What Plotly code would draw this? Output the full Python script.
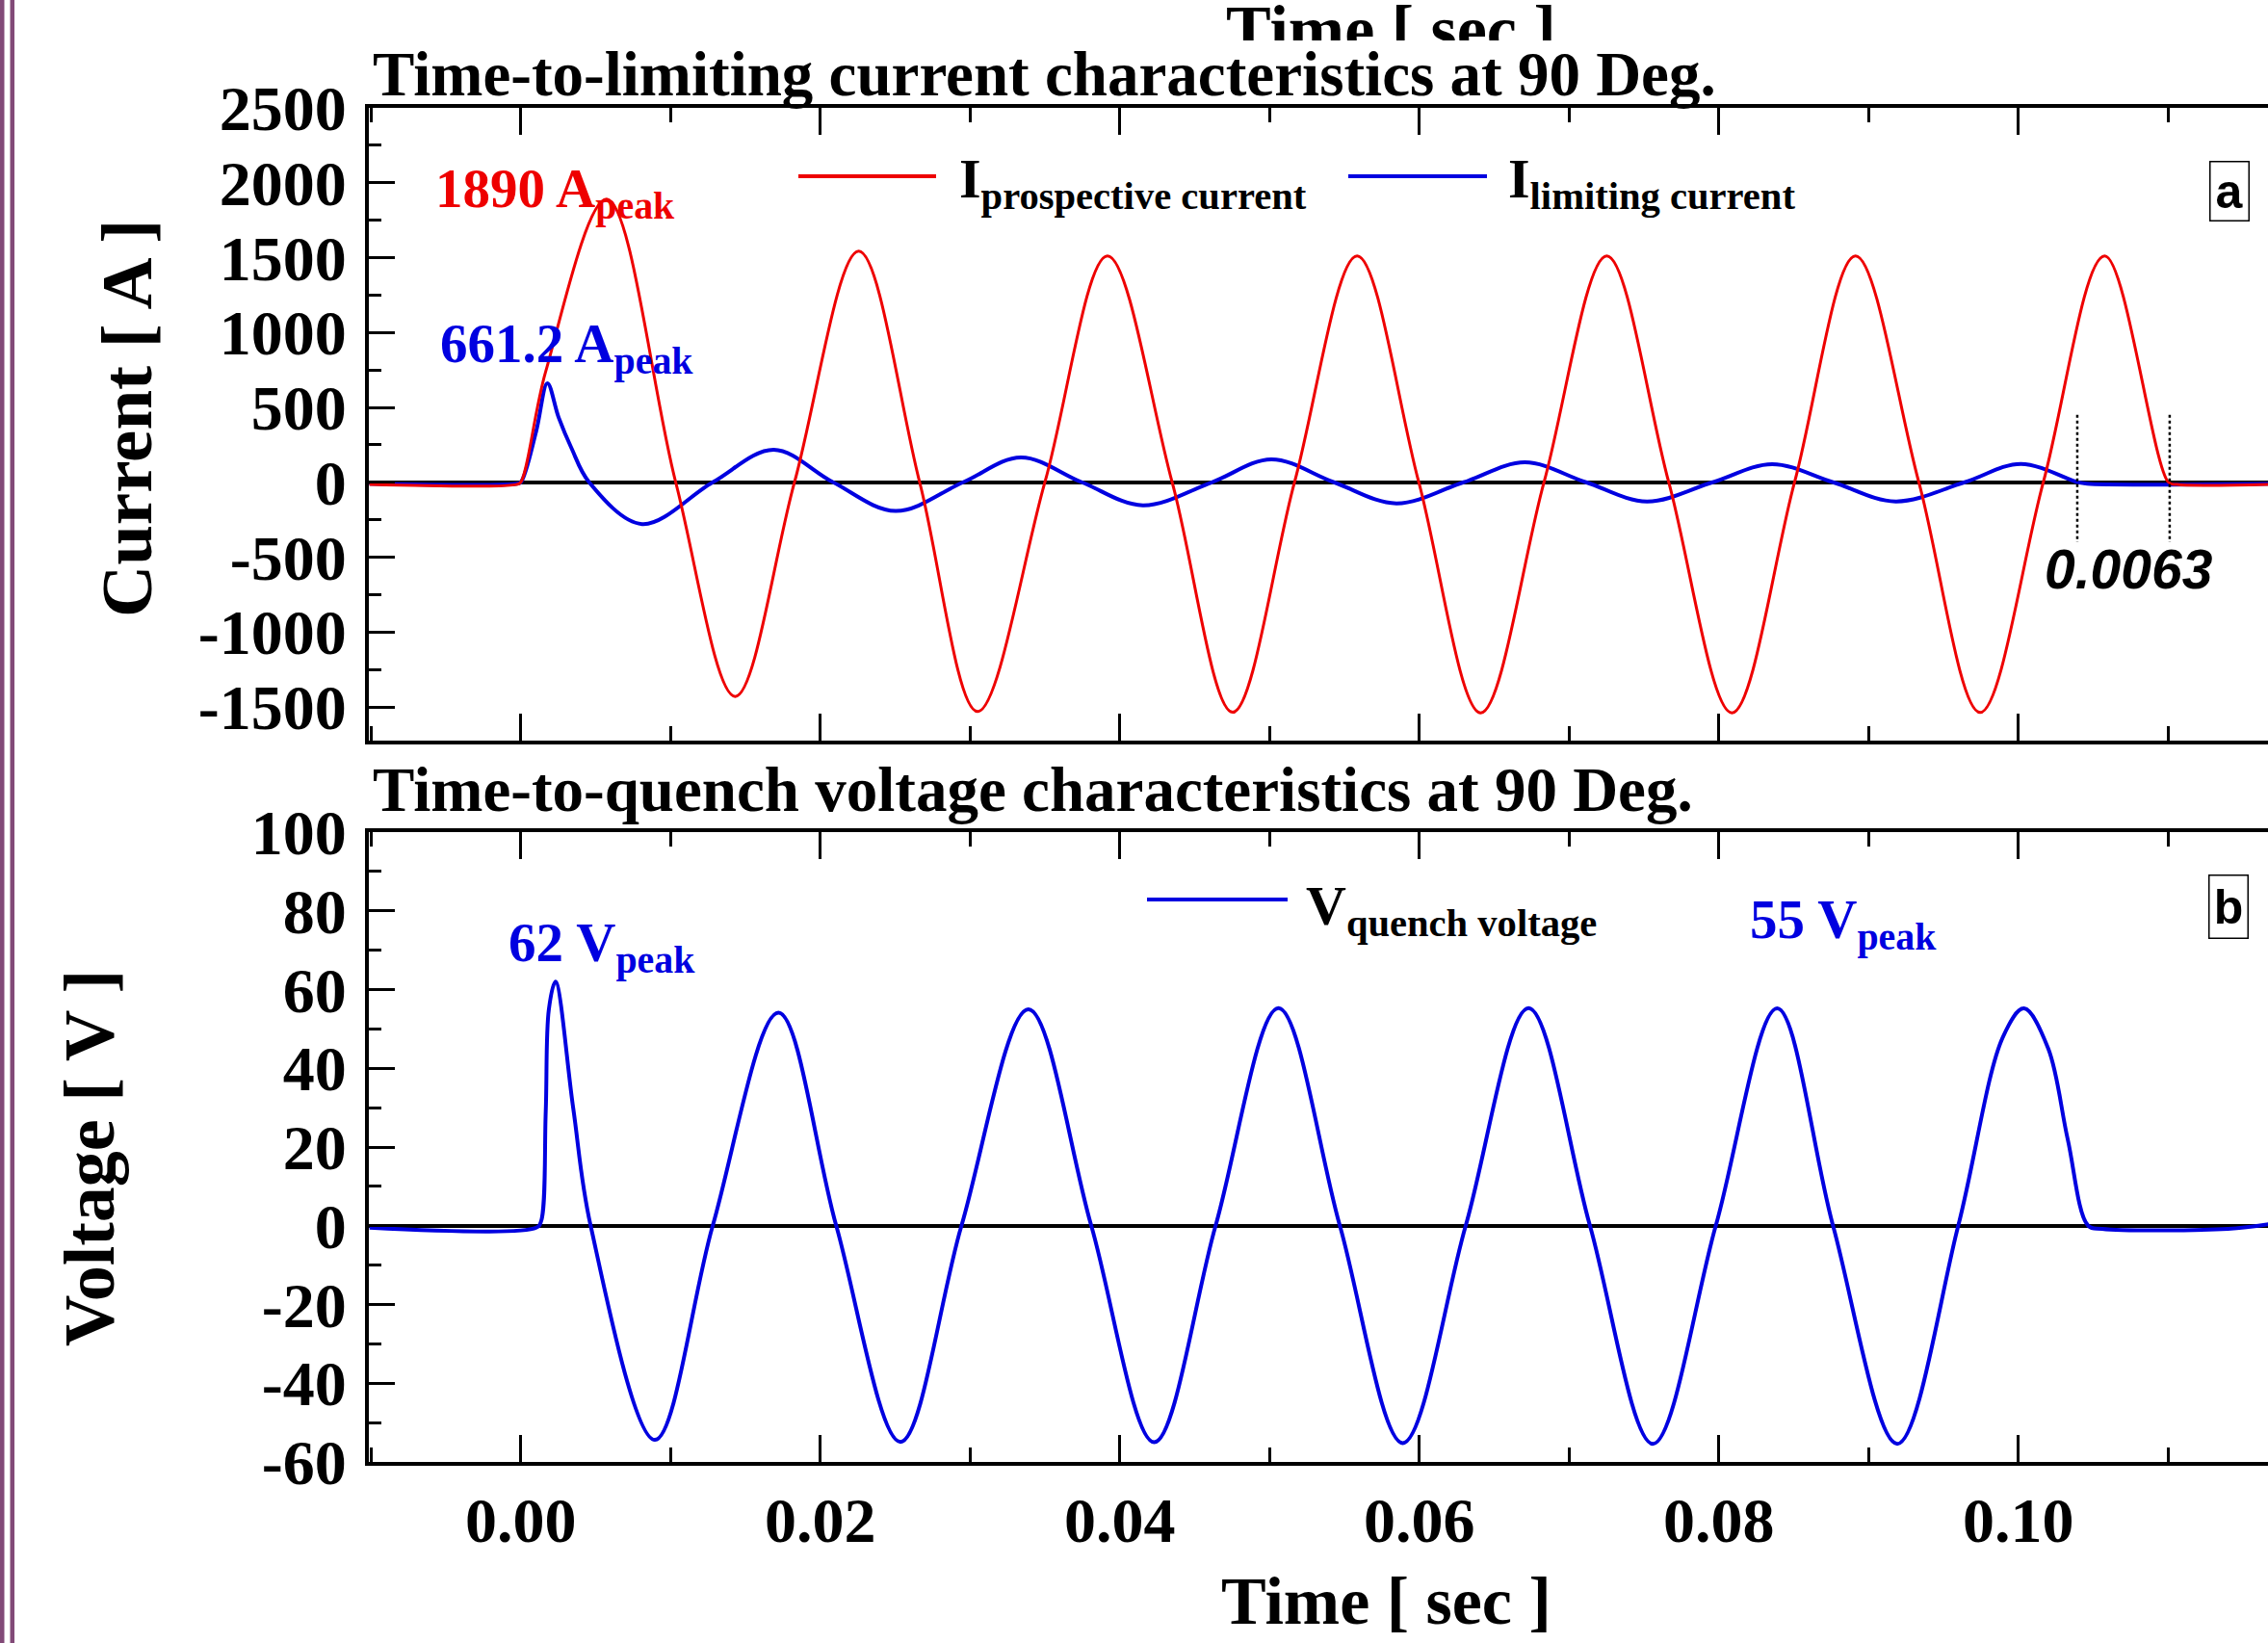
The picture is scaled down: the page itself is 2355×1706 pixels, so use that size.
import plotly.graph_objects as go

# ---------------- data ----------------
t_prosp = [-0.0101, -0.0003, 0.0, 0.00167, 0.00574, 0.01035, 0.01432, 0.01828,
           0.02257, 0.02664, 0.0305, 0.035, 0.03918, 0.0435, 0.04754, 0.05167, 0.05585,
           0.05997, 0.0641, 0.06833, 0.07252, 0.07666, 0.08088, 0.08506, 0.08913, 0.09336,
           0.09745, 0.10167, 0.10577, 0.11003, 0.1106, 0.1167]
i_prosp = [-15, -15, 0, 740, 1890, 0, -1430, 0,
           1543, 0, -1531, 0, 1512, 0, -1536, 0, 1512,
           0, -1540, 0, 1512, 0, -1540, 0, 1512, 0,
           -1537, 0, 1512, 0, -15, -15]

t_lim = [-0.0101, -0.0003, 0.0, 0.00103, 0.00178, 0.00253, 0.00338, 0.00457, 0.0081,
         0.01282, 0.01689, 0.02086, 0.02503, 0.02954, 0.0334, 0.03747, 0.04154, 0.04615,
         0.05012, 0.0543, 0.05847, 0.06296, 0.06705, 0.07113, 0.0752, 0.07959, 0.08356,
         0.08763, 0.09181, 0.09642, 0.10017, 0.10396, 0.1046, 0.1167]
i_lim = [-10, -10, 0, 340, 661.2, 433, 230, 0, -279,
         0, 217, 0, -192, 0, 166, 0, -154, 0,
         153, 0, -141, 0, 133, 0, -128, 0, 121,
         0, -128, 0, 123, 0, -10, -10]

t_volt = [-0.0101, 0.00103, 0.00135, 0.00167, 0.00188, 0.00232, 0.0035, 0.00467,
          0.00896, 0.01282, 0.01721, 0.02107, 0.02536, 0.02943, 0.0339, 0.0381, 0.0423,
          0.0464, 0.0506, 0.0547, 0.0589, 0.0631, 0.0673, 0.0714, 0.0756, 0.0798, 0.0839,
          0.08763, 0.09192, 0.09599, 0.09898, 0.10038, 0.1020, 0.1033, 0.10467,
          0.1056, 0.114, 0.1167]
v_quench = [-0.5, -0.5, 1, 29, 55, 62, 30, 0,
            -54.4, 0, 54.1, 0, -54.9, 0, 55, 0, -55,
            0, 55.3, 0, -55.2, 0, 55.3, 0, -55.4, 0, 55.2,
            0, -55.4, 0, 48, 55.2, 45, 22, 0,
            -0.8, -0.8, 0.4]

interrupt_marks = [0.10394, 0.11011]
interrupt_span = [450, -400]

x_ticks = [0.00, 0.02, 0.04, 0.06, 0.08, 0.10]
x_ticklabels = ["0.00", "0.02", "0.04", "0.06", "0.08", "0.10"]
cur_ticks = [-1500, -1000, -500, 0, 500, 1000, 1500, 2000, 2500]
cur_ticklabels = ["-1500", "-1000", "-500", "0", "500", "1000", "1500", "2000", "2500"]
volt_ticks = [-60, -40, -20, 0, 20, 40, 60, 80, 100]
volt_ticklabels = ["-60", "-40", "-20", "0", "20", "40", "60", "80", "100"]

# ---------------- layout geometry ----------------
W, H = 2355, 1706
L, R, T, B = 383, 0, 112, 188
PW, PH = W - L - R, H - T - B

def PX(x):
    return (x - L) / PW

def PY(y):
    return (H - B - y) / PH

RED = "#EE0000"
BLUE = "#0000E0"
SERIF = "Liberation Serif"
SANS = "Liberation Sans"

fig = go.Figure()
fig.add_trace(go.Scatter(x=t_lim, y=i_lim, mode="lines", line=dict(color=BLUE, width=4, shape="spline"),
                         xaxis="x", yaxis="y", showlegend=False))
fig.add_trace(go.Scatter(x=t_prosp, y=i_prosp, mode="lines", line=dict(color=RED, width=3, shape="spline"),
                         xaxis="x", yaxis="y", showlegend=False))
fig.add_trace(go.Scatter(x=t_volt, y=v_quench, mode="lines", line=dict(color=BLUE, width=4, shape="spline"),
                         xaxis="x2", yaxis="y2", showlegend=False))

xr = [(L - 540.7) / 15550, (W - 540.7) / 15550]
tickfont = dict(family=SERIF, size=66, color="black", weight="bold")

def xaxis_cfg(labels, anchor):
    return dict(range=xr, anchor=anchor, showline=True, linewidth=4, linecolor="black", mirror="ticks",
                ticks="inside", ticklen=28, tickwidth=3, tickcolor="black",
                tickvals=x_ticks, ticktext=x_ticklabels, showticklabels=labels,
                tickfont=tickfont, ticklabelstandoff=0,
                minor=dict(dtick=0.01, tick0=0, ticks="inside", ticklen=15, tickwidth=3, tickcolor="black"),
                showgrid=False, zeroline=False)

def yaxis_cfg(rng, vals, txt, mdt, dom, anchor):
    return dict(range=rng, domain=dom, anchor=anchor, showline=True, linewidth=4, linecolor="black",
                ticks="inside", ticklen=27, tickwidth=3, tickcolor="black", tickvals=vals, ticktext=txt,
                tickfont=tickfont, ticklabelstandoff=6,
                minor=dict(dtick=mdt, tick0=0, ticks="inside", ticklen=13, tickwidth=3, tickcolor="black"),
                showgrid=False, zeroline=True, zerolinecolor="black", zerolinewidth=3.5)

fig.update_layout(
    width=W, height=H,
    margin=dict(l=L, r=R, t=T, b=B, pad=0),
    paper_bgcolor="white", plot_bgcolor="white",
    font=dict(family=SERIF, color="black"),
    xaxis=xaxis_cfg(False, "y"),
    yaxis=yaxis_cfg([-1725, 2500], cur_ticks, cur_ticklabels, 250, [(H - B - 769) / PH, 1.0], "x"),
    xaxis2=xaxis_cfg(True, "y2"),
    yaxis2=yaxis_cfg([-60, 100], volt_ticks, volt_ticklabels, 10, [0.0, (H - B - 864) / PH], "x2"),
)

ann = []

def text(x, y, s, size, color="black", xanchor="left", yanchor="middle", family=SERIF, **kw):
    ann.append(dict(x=PX(x), y=PY(y), xref="paper", yref="paper", text=s, showarrow=False,
                    xanchor=xanchor, yanchor=yanchor,
                    font=dict(family=family, size=size, color=color, weight="bold",
                              style=kw.pop("style", "normal")), **kw))

# panel titles
text(385, 77, "Time-to-limiting current characteristics at 90 Deg.", 65)
text(385, 820, "Time-to-quench voltage characteristics at 90 Deg.", 65)
# axis titles
text(131, 434, "Current [ A ]", 75, xanchor="center", textangle=-90)
text(93, 1203, "Voltage [ V ]", 74, xanchor="center", textangle=-90)
text(1439, 1662, "Time [ sec ]", 70, xanchor="center")
# cut-off title at very top (remnant of a panel above)
ann.append(dict(x=PX(1444), y=PY(-9), xref="paper", yref="paper", text="Time [ sec ]", showarrow=False,
                xanchor="center", yanchor="top", height=50, valign="top", borderpad=0,
                font=dict(family=SERIF, size=70, color="black", weight="bold")))

# peak labels
text(450, 200, "1890 A<sub>peak</sub>", 57, RED)
text(455, 361, "661.2 A<sub>peak</sub>", 57, BLUE)
text(526, 983, "62 V<sub>peak</sub>", 57, BLUE)
text(1815, 959, "55 V<sub>peak</sub>", 57, BLUE)

# legends
text(994, 190, "I<sub>prospective current</sub>", 58)
text(1564, 190, "I<sub>limiting current</sub>", 58)
text(1354, 944, "V<sub>quench voltage</sub>", 58)

# interrupt time
text(2121, 591, "0.0063", 57, family=SANS, style="italic")

# panel tags
for (cx, cy, s, hh) in [(2315, 199, "a", 60), (2314, 941, "b", 64)]:
    ann.append(dict(x=PX(cx), y=PY(cy), xref="paper", yref="paper", text=s, showarrow=False,
                    xanchor="center", yanchor="middle", width=39, height=hh, borderpad=0,
                    bordercolor="black", borderwidth=1.5, bgcolor="white",
                    font=dict(family=SANS, size=50, color="black", weight="bold")))

fig.update_layout(annotations=ann)

shapes = []
# legend samples
for (x0, x1, y, c) in [(829, 972, 183, RED), (1400, 1544, 183, BLUE), (1191, 1337, 934, BLUE)]:
    shapes.append(dict(type="line", xref="paper", yref="paper", x0=PX(x0), x1=PX(x1), y0=PY(y), y1=PY(y),
                       line=dict(color=c, width=4)))
# interruption markers
for tm in interrupt_marks:
    shapes.append(dict(type="line", xref="x", yref="y", x0=tm, x1=tm, y0=interrupt_span[0], y1=interrupt_span[1],
                       line=dict(color="black", width=2.5, dash="dot")))
# purple page border on the left
for (x0, x1) in [(0, 4.5), (10.5, 15)]:
    shapes.append(dict(type="rect", xref="paper", yref="paper", x0=PX(x0), x1=PX(x1), y0=PY(H + 5), y1=PY(-5),
                       line=dict(width=0), fillcolor="#824A78"))
fig.update_layout(shapes=shapes)

fig.write_html("out.html", config={"displayModeBar": False},
               post_script="document.body.style.margin='0px';document.body.style.overflow='hidden';")
